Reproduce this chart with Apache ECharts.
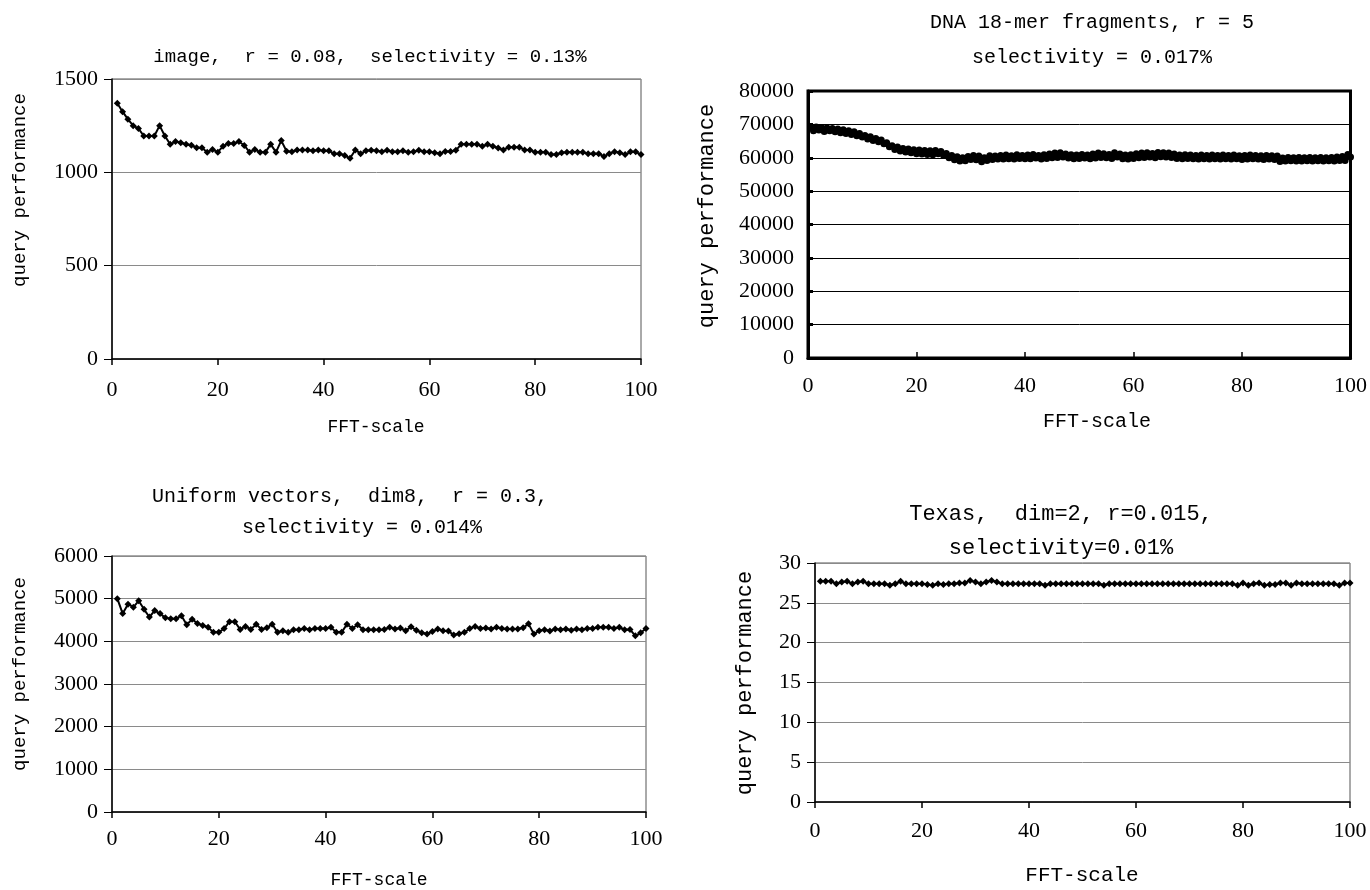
<!DOCTYPE html>
<html>
<head>
<meta charset="utf-8">
<script src="https://cdn.jsdelivr.net/npm/echarts@6/dist/echarts.min.js"></script>
<style>
  html, body { margin: 0; padding: 0; background: #fff; }
  #chart { width: 1370px; height: 890px; }
</style>
</head>
<body>
<div id="chart"></div>
<script>
// FFT-scale sample points
var fftScale = [1,2,3,4,5,6,7,8,9,10,11,12,13,14,15,16,17,18,19,20,21,22,23,24,25,26,27,28,29,30,
  31,32,33,34,35,36,37,38,39,40,41,42,43,44,45,46,47,48,49,50,51,52,53,54,55,56,57,58,59,60,
  61,62,63,64,65,66,67,68,69,70,71,72,73,74,75,76,77,78,79,80,81,82,83,84,85,86,87,88,89,90,
  91,92,93,94,95,96,97,98,99,100];
var dnaScale = [0.5,1,1.5,2,2.5,3,3.5,4,4.5,5,5.5,6,6.5,7,7.5,8,8.5,9,9.5,10,
  10.5,11,11.5,12,12.5,13,13.5,14,14.5,15,15.5,16,16.5,17,17.5,18,18.5,19,19.5,20,
  20.5,21,21.5,22,22.5,23,23.5,24,24.5,25,25.5,26,26.5,27,27.5,28,28.5,29,29.5,30,
  30.5,31,31.5,32,32.5,33,33.5,34,34.5,35,35.5,36,36.5,37,37.5,38,38.5,39,39.5,40,
  40.5,41,41.5,42,42.5,43,43.5,44,44.5,45,45.5,46,46.5,47,47.5,48,48.5,49,49.5,50,
  50.5,51,51.5,52,52.5,53,53.5,54,54.5,55,55.5,56,56.5,57,57.5,58,58.5,59,59.5,60,
  60.5,61,61.5,62,62.5,63,63.5,64,64.5,65,65.5,66,66.5,67,67.5,68,68.5,69,69.5,70,
  70.5,71,71.5,72,72.5,73,73.5,74,74.5,75,75.5,76,76.5,77,77.5,78,78.5,79,79.5,80,
  80.5,81,81.5,82,82.5,83,83.5,84,84.5,85,85.5,86,86.5,87,87.5,88,88.5,89,89.5,90,
  90.5,91,91.5,92,92.5,93,93.5,94,94.5,95,95.5,96,96.5,97,97.5,98,98.5,99,99.5,100];

// image, r = 0.08
var imageVals = [1370,1325,1285,1250,1235,1195,1195,1195,1250,1195,
  1150,1165,1158,1150,1145,1132,1132,1108,1122,1108,
  1140,1154,1154,1165,1144,1108,1122,1108,1108,1150,
  1108,1170,1113,1110,1120,1120,1120,1115,1120,1115,
  1115,1100,1100,1090,1075,1120,1100,1115,1118,1115,
  1110,1118,1110,1110,1115,1108,1110,1118,1110,1110,
  1105,1100,1112,1112,1118,1150,1150,1150,1150,1140,
  1150,1140,1130,1120,1135,1135,1135,1120,1120,1108,
  1108,1108,1095,1095,1105,1108,1108,1108,1108,1100,
  1100,1100,1085,1100,1110,1105,1095,1110,1110,1095];

// DNA 18-mer fragments, r = 5
var dnaVals = [69400,68100,69200,68300,69100,67900,68900,68100,68800,67800,
  68600,67500,68400,67300,68100,67000,67800,66600,67300,66200,
  66700,65600,66300,65200,65800,64800,65300,64200,64500,63300,
  63600,62500,63200,62000,62800,61700,62600,61500,62400,61200,
  62300,61100,62200,61000,62100,60900,62200,61200,61900,60700,
  61300,60000,60700,59400,60300,59000,60000,59100,60400,59500,
  60700,59400,60500,58800,60000,59200,60600,59500,60500,59600,
  60700,59600,60800,59700,60600,59600,60900,59800,60700,59700,
  60800,59700,61000,59900,60700,59600,60900,59800,61100,60000,
  61400,60100,61500,60200,61100,59900,60900,59700,60800,59800,
  61000,59900,60800,59700,61100,59900,61400,60100,61200,60000,
  61000,59800,61500,60200,61100,59700,60800,59600,60900,59800,
  61200,60000,61400,60100,61500,60200,61300,60000,61600,60300,
  61500,60200,61400,60100,61100,59800,60800,59700,60900,59800,
  60800,59700,60700,59600,60800,59700,60700,59600,60800,59700,
  60700,59600,60800,59700,60700,59600,60800,59700,60600,59500,
  60700,59600,60800,59700,60700,59600,60600,59500,60700,59600,
  60600,59500,60500,58900,59900,59000,60100,59100,60000,59000,
  60100,59000,60000,59100,60100,59000,60000,59100,60100,59000,
  60000,59100,60100,59000,60200,59200,60400,59200,61000,60200];

// Uniform vectors, dim8, r = 0.3
var uniformVals = [5000,4650,4870,4800,4950,4750,4570,4720,4650,4550,
  4530,4530,4600,4390,4520,4420,4370,4330,4210,4210,
  4300,4460,4460,4280,4350,4280,4400,4280,4320,4400,
  4210,4250,4210,4270,4270,4300,4270,4300,4300,4300,
  4330,4210,4210,4400,4300,4390,4270,4270,4270,4270,
  4280,4330,4290,4310,4250,4340,4260,4200,4170,4230,
  4290,4250,4240,4150,4180,4210,4300,4350,4300,4310,
  4290,4330,4300,4290,4290,4290,4320,4410,4170,4250,
  4270,4240,4290,4270,4290,4260,4290,4270,4300,4300,
  4330,4330,4330,4300,4330,4270,4280,4130,4200,4300];

// Texas, dim=2, r=0.015
var texasVals = [27.7,27.7,27.7,27.4,27.6,27.7,27.4,27.6,27.7,27.4,
  27.4,27.4,27.4,27.2,27.4,27.7,27.4,27.4,27.4,27.4,
  27.3,27.2,27.4,27.3,27.4,27.4,27.5,27.5,27.8,27.6,
  27.4,27.6,27.8,27.6,27.4,27.4,27.4,27.4,27.4,27.4,
  27.4,27.4,27.2,27.4,27.4,27.4,27.4,27.4,27.4,27.4,
  27.4,27.4,27.4,27.2,27.4,27.4,27.4,27.4,27.4,27.4,
  27.4,27.4,27.4,27.4,27.4,27.4,27.4,27.4,27.4,27.4,
  27.4,27.4,27.4,27.4,27.4,27.4,27.4,27.4,27.2,27.5,
  27.2,27.4,27.5,27.2,27.3,27.3,27.5,27.5,27.2,27.5,
  27.4,27.4,27.4,27.4,27.4,27.4,27.4,27.2,27.5,27.5];

var xTicks = [0, 100, 20];
var titles = [
  'image,  r = 0.08,  selectivity = 0.13%',
  'DNA 18-mer fragments, r = 5\nselectivity = 0.017%',
  'Uniform vectors,  dim8,  r = 0.3,\n  selectivity = 0.014%',
  'Texas,  dim=2, r=0.015,\nselectivity=0.01%'
];
var yName = 'query performance';
var xName = 'FFT-scale';

function pairs(xs, ys) {
  return ys.map(function (v, i) { return [xs[i], v]; });
}

var chart = echarts.init(document.getElementById('chart'));
var numFont = { fontFamily: '"Liberation Serif", serif', fontSize: 22, color: '#000', formatter: function (v) { return String(v); } };
var mono = '"Liberation Mono", monospace';

function xAxis(idx, margin, heavy) {
  return {
    type: 'value', gridIndex: idx, min: xTicks[0], max: xTicks[1], interval: xTicks[2],
    axisLine: { show: true, onZero: false, lineStyle: { color: '#000', width: heavy ? 3 : 1.5 } },
    axisTick: { show: true, inside: heavy, length: 6, lineStyle: { color: '#000', width: 1.5 } },
    axisLabel: Object.assign({ margin: margin }, numFont),
    splitLine: { show: false }
  };
}
function yAxis(idx, max, interval, heavy) {
  return {
    type: 'value', gridIndex: idx, min: 0, max: max, interval: interval,
    axisLine: { show: true, lineStyle: { color: '#000', width: heavy ? 3 : 1.5 } },
    axisTick: { show: true, inside: heavy, length: heavy ? 5 : 8, lineStyle: { color: '#000', width: heavy ? 3 : 1 } },
    axisLabel: Object.assign({ margin: 14 }, numFont),
    splitLine: { show: true, lineStyle: { color: heavy ? '#000' : '#8a8a8a', width: 1 } }
  };
}
function lineSeries(idx, data, heavy) {
  return {
    type: 'line', xAxisIndex: idx, yAxisIndex: idx, data: data,
    symbol: heavy ? 'circle' : 'diamond', symbolSize: heavy ? 7 : 7,
    itemStyle: { color: '#000' },
    lineStyle: { color: '#000', width: heavy ? 4 : 2 },
    animation: false
  };
}
function txt(x, y, text, size, rot, lh) {
  return {
    type: 'text', x: x, y: y, rotation: rot || 0,
    style: { text: text, font: size + 'px ' + mono, fill: '#000', align: 'center', verticalAlign: 'middle', lineHeight: lh || size }
  };
}

var option = {
  backgroundColor: '#fff',
  animation: false,
  grid: [
    { left: 112, top: 79, width: 529, height: 280, show: true, borderColor: '#555', borderWidth: 1 },
    { left: 808, top: 91, width: 544, height: 267, show: true, borderColor: '#000', borderWidth: 3 },
    { left: 112, top: 556, width: 534, height: 256, show: true, borderColor: '#555', borderWidth: 1 },
    { left: 815, top: 563, width: 535, height: 239, show: true, borderColor: '#555', borderWidth: 1 }
  ],
  xAxis: [xAxis(0, 20, false), xAxis(1, 17, true), xAxis(2, 16, false), xAxis(3, 18, false)],
  yAxis: [yAxis(0, 1500, 500, false), yAxis(1, 80000, 10000, true), yAxis(2, 6000, 1000, false), yAxis(3, 30, 5, false)],
  series: [
    lineSeries(0, pairs(fftScale, imageVals), false),
    lineSeries(1, pairs(dnaScale, dnaVals), true),
    lineSeries(2, pairs(fftScale, uniformVals), false),
    lineSeries(3, pairs(fftScale, texasVals), false)
  ],
  graphic: [
    txt(370, 57, titles[0], 19),
    txt(1092, 40, titles[1], 20, 0, 35),
    txt(350, 512, titles[2], 20, 0, 31),
    txt(1061, 531, titles[3], 22, 0, 34),
    txt(20, 190, yName, 19, Math.PI / 2),
    txt(707, 216, yName, 22, Math.PI / 2),
    txt(20, 674, yName, 19, Math.PI / 2),
    txt(745, 683, yName, 22, Math.PI / 2),
    txt(376, 427, xName, 18),
    txt(1097, 422, xName, 20),
    txt(379, 880, xName, 18),
    txt(1082, 875, xName, 21)
  ]
};
chart.setOption(option);
</script>
</body>
</html>
